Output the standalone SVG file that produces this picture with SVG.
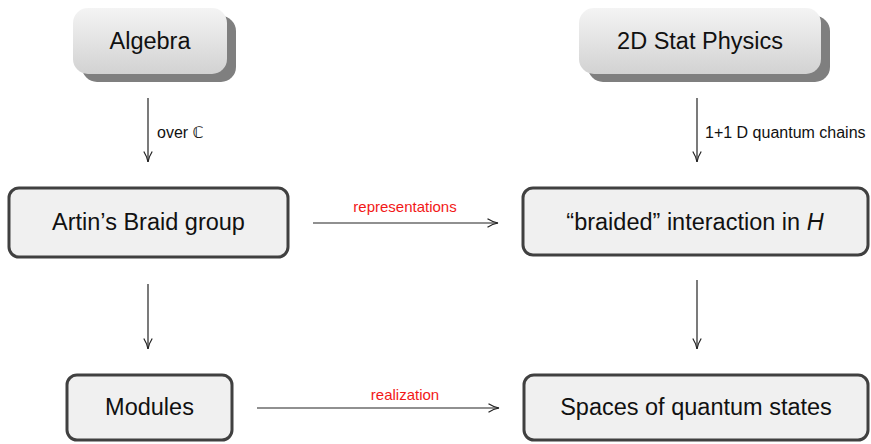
<svg xmlns="http://www.w3.org/2000/svg" width="871" height="444" viewBox="0 0 871 444">
<style>
.txt{font-family:"Liberation Sans",Arial,sans-serif;font-size:23.5px;fill:#111;text-anchor:middle}
.lbl{font-family:"Liberation Sans","DejaVu Sans",Arial,sans-serif;font-size:16px;fill:#111}
.red{font-family:"Liberation Sans",Arial,sans-serif;font-size:15px;fill:#f21818;text-anchor:middle}
.box{fill:#f0f0f0;stroke:#404040;stroke-width:3}
.shadow{fill:#7f7f7f}
.edge{stroke:#222;stroke-width:1.2;fill:none;marker-end:url(#arr)}
</style>
<defs>
<linearGradient id="grad" x1="0" y1="0" x2="0" y2="1">
<stop offset="0" stop-color="#f4f4f4"/>
<stop offset="1" stop-color="#d2d2d2"/>
</linearGradient>
<marker id="arr" viewBox="0 0 12 10" refX="11.5" refY="5" markerWidth="12" markerHeight="10" orient="auto" markerUnits="userSpaceOnUse">
<path d="M1,0.8 Q6,4 11.5,5 Q6,6 1,9.2" stroke="#222" stroke-width="1.2" fill="none"/>
</marker>
</defs>
<g id="algebra">
<rect class="shadow" x="82" y="16" width="154" height="66" rx="15"/>
<rect x="73" y="8" width="154" height="66" rx="15" fill="url(#grad)"/>
<text class="txt" x="150" y="49">Algebra</text>
</g>
<g id="statphys">
<rect class="shadow" x="588" y="16" width="242" height="66" rx="15"/>
<rect x="579" y="8" width="242" height="66" rx="15" fill="url(#grad)"/>
<text class="txt" x="700" y="49">2D Stat Physics</text>
</g>
<g id="artin">
<rect class="box" x="9" y="188" width="279" height="69" rx="10"/>
<text class="txt" x="148.5" y="230">Artin’s Braid group</text>
</g>
<g id="braided">
<rect class="box" x="523" y="188" width="345" height="67" rx="10"/>
<text class="txt" x="695" y="230">“braided” interaction in <tspan font-style="italic">H</tspan></text>
</g>
<g id="modules">
<rect class="box" x="67" y="375" width="165" height="65" rx="10"/>
<text class="txt" x="149.5" y="415">Modules</text>
</g>
<g id="spaces">
<rect class="box" x="524" y="375" width="344" height="65" rx="10"/>
<text class="txt" x="696" y="415">Spaces of quantum states</text>
</g>
<g id="connectors">
<line class="edge" x1="148" y1="98" x2="148" y2="162"/>
<text class="lbl" x="157" y="138">over ℂ</text>
<line class="edge" x1="697" y1="98" x2="697" y2="162"/>
<text class="lbl" x="705" y="138">1+1 D quantum chains</text>
<line class="edge" x1="313" y1="223" x2="498" y2="223"/>
<text class="red" x="405" y="212">representations</text>
<line class="edge" x1="148" y1="284" x2="148" y2="349"/>
<line class="edge" x1="697" y1="280" x2="697" y2="349"/>
<line class="edge" x1="257" y1="408" x2="499" y2="408"/>
<text class="red" x="405" y="400">realization</text>
</g>
</svg>
